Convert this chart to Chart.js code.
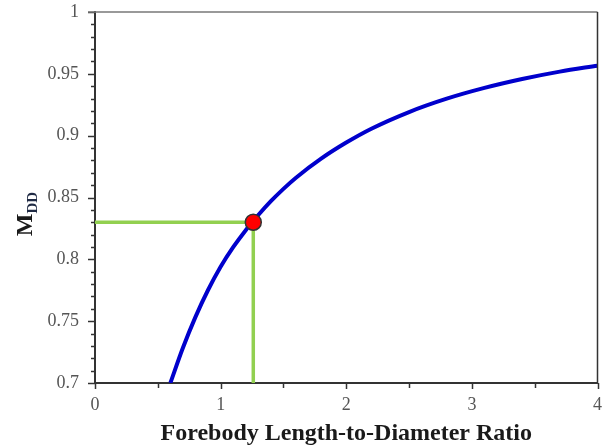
<!DOCTYPE html>
<html>
<head>
<meta charset="utf-8">
<script src="https://cdn.jsdelivr.net/npm/chart.js@4/dist/chart.umd.min.js"></script>
<style>
  html, body { margin: 0; padding: 0; background: #fff; }
  #wrap { width: 607px; height: 445px; }
</style>
</head>
<body>
<div id="wrap"><canvas id="chart" width="607" height="445"></canvas></div>
<script>
// curve
const ratioX = [0.6, 0.7, 0.8, 0.9, 1.0, 1.1, 1.2, 1.3, 1.4, 1.5, 1.6, 1.8, 2.0, 2.2, 2.5, 2.8, 3.1, 3.4, 3.7, 4.0];
const mddY   = [0.700, 0.7285, 0.7535, 0.7752, 0.794, 0.8098, 0.8236, 0.8358, 0.847, 0.857, 0.866, 0.8814, 0.8944, 0.9056, 0.9191, 0.9299, 0.9386, 0.9458, 0.9518, 0.9566];

// design point and its guide lines
const designX = 1.26;
const designY = 0.83;
const guideX = [0, designX, designX];
const guideY = [designY, designY, 0.7];

const xTicks = [0, 1, 2, 3, 4];
const yTicks = [0.7, 0.75, 0.8, 0.85, 0.9, 0.95, 1];

const xTitle = 'Forebody Length-to-Diameter Ratio';
const yTitle = 'M';
const ySub = 'DD';

const serif = "'Liberation Serif', 'DejaVu Serif', serif";
const axisColor = '#333';

const toPts = (xs, ys) => xs.map((x, i) => ({ x: x, y: ys[i] }));

// minor/major tick marks, frame and axis titles
const framePlugin = {
  id: 'frame',
  afterDraw(chart) {
    const { ctx, chartArea: a, scales } = chart;
    const xs = scales.x, ys = scales.y;
    ctx.save();
    ctx.strokeStyle = axisColor;
    ctx.lineWidth = 1.5;
    for (let i = 0; i <= 30; i++) {
      const v = 0.7 + i * 0.01;
      const py = Math.round(ys.getPixelForValue(v)) + 0.5;
      const len = i % 5 === 0 ? 7 : 4;
      ctx.beginPath();
      ctx.moveTo(a.left - len, py);
      ctx.lineTo(a.left, py);
      ctx.stroke();
    }
    for (let i = 0; i <= 8; i++) {
      const px = Math.round(xs.getPixelForValue(i * 0.5)) + 0.5;
      const len = i % 2 === 0 ? 6 : 5;
      ctx.beginPath();
      ctx.moveTo(px, a.bottom);
      ctx.lineTo(px, a.bottom + len);
      ctx.stroke();
    }
    // top and right frame
    ctx.strokeStyle = '#777';
    ctx.lineWidth = 1.5;
    ctx.beginPath();
    ctx.moveTo(a.left - 7, a.top);
    ctx.lineTo(a.right, a.top);
    ctx.stroke();
    ctx.strokeStyle = axisColor;
    ctx.beginPath();
    ctx.moveTo(a.right, a.top);
    ctx.lineTo(a.right, a.bottom);
    ctx.stroke();

    // axis titles
    ctx.fillStyle = '#1a1a1a';
    ctx.font = 'bold 24px ' + serif;
    ctx.textAlign = 'center';
    ctx.textBaseline = 'alphabetic';
    ctx.fillText(xTitle, (a.left + a.right) / 2, 440);

    ctx.translate(32, 214);
    ctx.rotate(-Math.PI / 2);
    ctx.textAlign = 'left';
    ctx.font = 'bold 24px ' + serif;
    const mW = ctx.measureText(yTitle).width;
    ctx.font = 'bold 15px ' + serif;
    const sW = ctx.measureText(ySub).width;
    const start = -(mW + sW) / 2;
    ctx.font = 'bold 24px ' + serif;
    ctx.fillText(yTitle, start, 0);
    ctx.font = 'bold 15px ' + serif;
    ctx.fillStyle = '#1f2a44';
    ctx.fillText(ySub, start + mW, 5);
    ctx.restore();
  }
};

new Chart(document.getElementById('chart'), {
  type: 'line',
  data: {
    datasets: [
      {
        label: 'design point',
        type: 'scatter',
        data: [{ x: designX, y: designY }],
        pointRadius: 8,
        pointBackgroundColor: '#ff0000',
        pointBorderColor: '#333',
        pointBorderWidth: 1.5,
        order: 0
      },
      {
        label: 'M_DD',
        data: toPts(ratioX, mddY),
        borderColor: '#0000cc',
        borderWidth: 4,
        pointRadius: 0,
        cubicInterpolationMode: 'monotone',
        fill: false,
        order: 1
      },
      {
        label: 'guide',
        data: toPts(guideX, guideY),
        borderColor: '#92d050',
        borderWidth: 3.5,
        pointRadius: 0,
        tension: 0,
        fill: false,
        order: 2
      }
    ]
  },
  options: {
    responsive: false,
    animation: false,
    layout: { padding: { top: 12, right: 9, left: 0, bottom: 0 } },
    plugins: {
      legend: { display: false },
      tooltip: { enabled: false }
    },
    scales: {
      x: {
        type: 'linear',
        min: 0,
        max: 4,
        afterBuildTicks: s => { s.ticks = xTicks.map(v => ({ value: v })); },
        afterFit: s => { s.height = 62; s.paddingLeft = 0; s.paddingRight = 0; },
        grid: { display: false, drawTicks: false },
        border: { display: true, color: axisColor, width: 2 },
        ticks: {
          padding: 11,
          color: '#555',
          font: { family: serif, size: 18 }
        }
      },
      y: {
        type: 'linear',
        min: 0.7,
        max: 1,
        afterBuildTicks: s => { s.ticks = yTicks.map(v => ({ value: v })); },
        afterFit: s => { s.width = 95; s.paddingTop = 0; s.paddingBottom = 0; },
        grid: { display: false, drawTicks: false },
        border: { display: true, color: axisColor, width: 2 },
        ticks: {
          padding: 16,
          color: '#555',
          font: { family: serif, size: 18 },
          callback: v => String(Math.round(v * 100) / 100)
        }
      }
    }
  },
  plugins: [framePlugin]
});
</script>
</body>
</html>
